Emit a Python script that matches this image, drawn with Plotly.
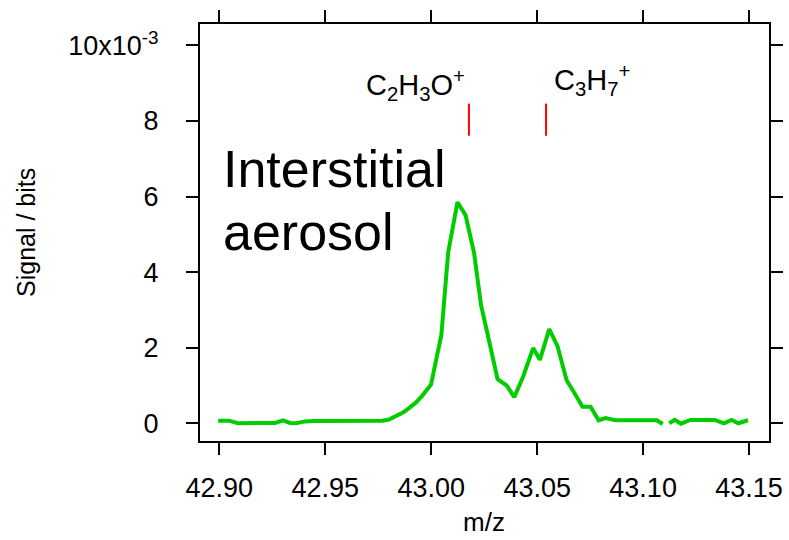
import plotly.graph_objects as go

# m/z values; None marks the break in the trace
mz = [42.8995, 42.9046, 42.9088, 42.9135, 42.9183, 42.9230, 42.9263, 42.9301, 42.9334, 42.9362,
      42.9404, 42.9451, 42.9499, 42.9546, 42.9593, 42.9640, 42.9688, 42.9730, 42.9768, 42.9801,
      42.9839, 42.9871, 42.9900, 42.9928, 42.9956, 42.9980, 42.9999, 43.0048, 43.0080, 43.0124,
      43.0162, 43.0202, 43.0235, 43.0274, 43.0313, 43.0356, 43.0392, 43.0434, 43.0481, 43.0513,
      43.0557, 43.0596, 43.0639, 43.0675, 43.0714, 43.0752, 43.0790, 43.0823, 43.0869, 43.0914,
      43.0961, 43.1008, 43.1065, 43.1092, 43.1108, 43.1123, 43.1150, 43.1178, 43.1223, 43.1268,
      43.1305, 43.1338, 43.1381, 43.1417, 43.1449, 43.1495]
# signal in units of 1e-3 bits
signal = [0.07, 0.07, 0.00, 0.00, 0.00, 0.00, 0.01, 0.08, 0.01, 0.00,
          0.05, 0.06, 0.06, 0.06, 0.06, 0.06, 0.06, 0.06, 0.07, 0.10,
          0.20, 0.30, 0.42, 0.55, 0.72, 0.88, 1.02, 2.34, 4.52, 5.85,
          5.51, 4.52, 3.13, 2.16, 1.17, 1.00, 0.69, 1.24, 1.99, 1.68,
          2.49, 2.04, 1.14, 0.81, 0.44, 0.44, 0.08, 0.14, 0.08, 0.08,
          0.08, 0.08, 0.08, -0.02, None, 0.00, 0.09, -0.01, 0.09, 0.09,
          0.09, 0.09, 0.00, 0.09, 0.00, 0.08]

ion_names = ["C<sub>2</sub>H<sub>3</sub>O<sup>+</sup>", "C<sub>3</sub>H<sub>7</sub><sup>+</sup>"]
ion_mz = [43.0178, 43.0542]
stick_low, stick_high = 7.61, 8.46

x_ticks = [42.90, 42.95, 43.00, 43.05, 43.10, 43.15]
x_ticktext = ["42.90", "42.95", "43.00", "43.05", "43.10", "43.15"]
y_ticks = [0, 2, 4, 6, 8, 10]
y_ticktext = ["0", "2", "4", "6", "8", "10x10<sup>-3</sup>"]

FONT = "Liberation Sans, Arial, Helvetica, sans-serif"

fig = go.Figure()
fig.add_trace(go.Scatter(x=mz, y=signal, mode="lines", connectgaps=False,
                         line=dict(color="rgb(0,204,0)", width=4), hoverinfo="skip",
                         showlegend=False))
for m in ion_mz:
    fig.add_trace(go.Scatter(x=[m, m], y=[stick_low, stick_high], mode="lines",
                             line=dict(color="rgb(255,0,0)", width=2), showlegend=False))

# ion labels
fig.add_annotation(x=42.9685, y=8.94, xref="x", yref="y", text=ion_names[0], showarrow=False,
                   xanchor="left", yanchor="middle", font=dict(family=FONT, size=29, color="black"))
fig.add_annotation(x=43.0572, y=9.08, xref="x", yref="y", text=ion_names[1], showarrow=False,
                   xanchor="left", yanchor="middle", font=dict(family=FONT, size=29, color="black"))
# sample label
fig.add_annotation(x=42.9010, y=5.90, xref="x", yref="y", text="Interstitial", showarrow=False,
                   xanchor="left", yanchor="bottom", font=dict(family=FONT, size=52, color="black"))
fig.add_annotation(x=42.9010, y=4.23, xref="x", yref="y", text="aerosol", showarrow=False,
                   xanchor="left", yanchor="bottom", font=dict(family=FONT, size=52, color="black"))

# axis titles
fig.add_annotation(x=0.4991, y=-0.1942, xref="paper", yref="paper", text="m/z", showarrow=False,
                   xanchor="center", yanchor="middle", font=dict(family=FONT, size=26, color="black"))
fig.add_annotation(x=-0.3058, y=0.5012, xref="paper", yref="paper", text="Signal / bits",
                   showarrow=False, textangle=-90,
                   xanchor="center", yanchor="middle", font=dict(family=FONT, size=25, color="black"))

axis_common = dict(showgrid=False, zeroline=False, showline=True, linecolor="black", linewidth=2,
                   mirror="ticks", ticks="outside", ticklen=12, tickwidth=2, tickcolor="black",
                   automargin=False,
                   tickfont=dict(family=FONT, size=27, color="black"))

fig.update_xaxes(range=[42.8909, 43.1594], tickmode="array", tickvals=x_ticks, ticktext=x_ticktext,
                 ticklabelstandoff=10, **axis_common)
fig.update_yaxes(range=[-0.469, 10.567], tickmode="array", tickvals=y_ticks, ticktext=y_ticktext,
                 ticklabelstandoff=22, **axis_common)

fig.update_layout(width=789, height=540, margin=dict(l=200, r=20, t=24, b=99),
                  plot_bgcolor="white", paper_bgcolor="white")

fig.write_html("out.html")
